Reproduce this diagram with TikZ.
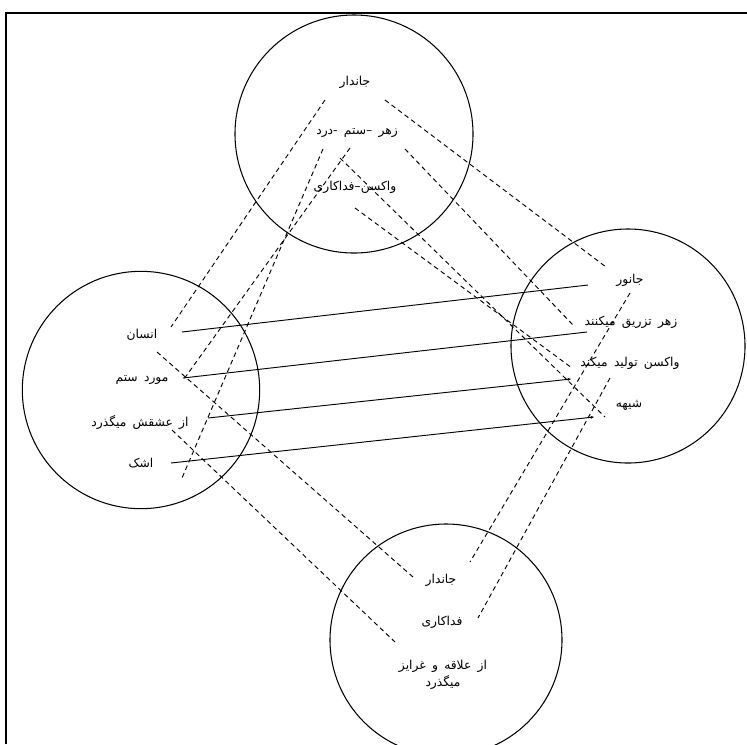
\documentclass[tikz,border=0pt]{standalone}
\usepackage{fontspec}
\newfontfamily\arabicfont[Script=Arabic,WordSpace=1.6]{DejaVu Sans}
\TeXXeTstate=1
\usetikzlibrary{arrows.meta}
\newcommand{\fa}[1]{{\arabicfont\beginR #1\endR}}

\begin{document}
\begin{tikzpicture}[x=0.03cm,y=-0.03cm,
    ring/.style={line width=0.9pt},
    lbl/.style={font=\arabicfont\fontsize{10.5}{14}\selectfont, inner sep=1pt, align=center},
    tie/.style={line width=0.8pt},
    hint/.style={line width=0.8pt, dash pattern=on 4pt off 3pt}]
    \useasboundingbox (0,0) rectangle (747,744);
    \draw[line width=1.5pt] (6,744)--(6,13)--(747,13);

    % four circles
    \draw[ring] (354,134) circle [radius=3.57cm];
    \draw[ring] (141,390) circle [radius=3.56cm];
    \draw[ring] (628,346) circle [radius=3.51cm];
    \draw[ring] (446,640) circle [radius=3.48cm];

    % top circle
    \node[lbl] (t1) at (355,82) {\fa{جاندار}};
    \node[lbl] (t2) at (357,133) {\fa{زهر –ستم -درد}};
    \node[lbl] (t3) at (355,187) {\fa{واکسن–فداکاری}};
    % left circle
    \node[lbl] (l1) at (142,335) {\fa{انسان}};
    \node[lbl] (l2) at (142,380) {\fa{مورد ستم}};
    \node[lbl] (l3) at (140,422) {\fa{از عشقش میگذرد}};
    \node[lbl] (l4) at (141,463) {\fa{اشک}};
    % right circle
    \node[lbl] (r1) at (630,280) {\fa{جانور}};
    \node[lbl] (r2) at (631,322) {\fa{زهر تزریق میکنند}};
    \node[lbl] (r3) at (630,363) {\fa{واکسن تولید میکند}};
    \node[lbl] (r4) at (629,405) {\fa{شیهه}};
    % bottom circle
    \node[lbl] (b1) at (441,580) {\fa{جاندار}};
    \node[lbl] (b2) at (442,622) {\fa{فداکاری}};
    \node[lbl] (b3) at (443,675) {\fa{از علاقه و غرایز}\\\fa{میگذرد}};

    % ends of the links
    \coordinate (s1a) at (182,332); \coordinate (s1b) at (588,285);
    \coordinate (s2a) at (183,378); \coordinate (s2b) at (587,332);
    \coordinate (s3a) at (208,418); \coordinate (s3b) at (571,379);
    \coordinate (s4a) at (171,463); \coordinate (s4b) at (594,417);

    \coordinate (ha) at (325,100); \coordinate (hb) at (171,327);
    \coordinate (hc) at (323,149); \coordinate (hd) at (182,478);
    \coordinate (he) at (350,148); \coordinate (hf) at (184,379);
    \coordinate (hg) at (385,100); \coordinate (hh) at (606,267);
    \coordinate (hi) at (405,149); \coordinate (hj) at (573,325);
    \coordinate (hk) at (340,158); \coordinate (hl) at (605,417);
    \coordinate (hm) at (355,208); \coordinate (hn) at (572,368);
    \coordinate (ho) at (157,352); \coordinate (hp) at (413,577);
    \coordinate (hq) at (172,430); \coordinate (hr) at (395,642);
    \coordinate (hs) at (630,293); \coordinate (ht) at (470,562);
    \coordinate (hu) at (610,378); \coordinate (hv) at (478,618);

    % left to right
    \draw[tie] (s1a)--(s1b);
    \draw[tie] (s2a)--(s2b);
    \draw[tie,-{Stealth[length=3pt,width=2.5pt]}] (s3a)--(s3b);
    \draw[tie,-{Stealth[length=3pt,width=2.5pt]}] (s4a)--(s4b);

    % dashed links
    \draw[hint] (ha)--(hb);
    \draw[hint] (hc)--(hd);
    \draw[hint] (he)--(hf);
    \draw[hint] (hg)--(hh);
    \draw[hint] (hi)--(hj);
    \draw[hint] (hk)--(hl);
    \draw[hint] (hm)--(hn);
    \draw[hint] (ho)--(hp);
    \draw[hint] (hq)--(hr);
    \draw[hint] (hs)--(ht);
    \draw[hint] (hu)--(hv);
\end{tikzpicture}
\end{document}
